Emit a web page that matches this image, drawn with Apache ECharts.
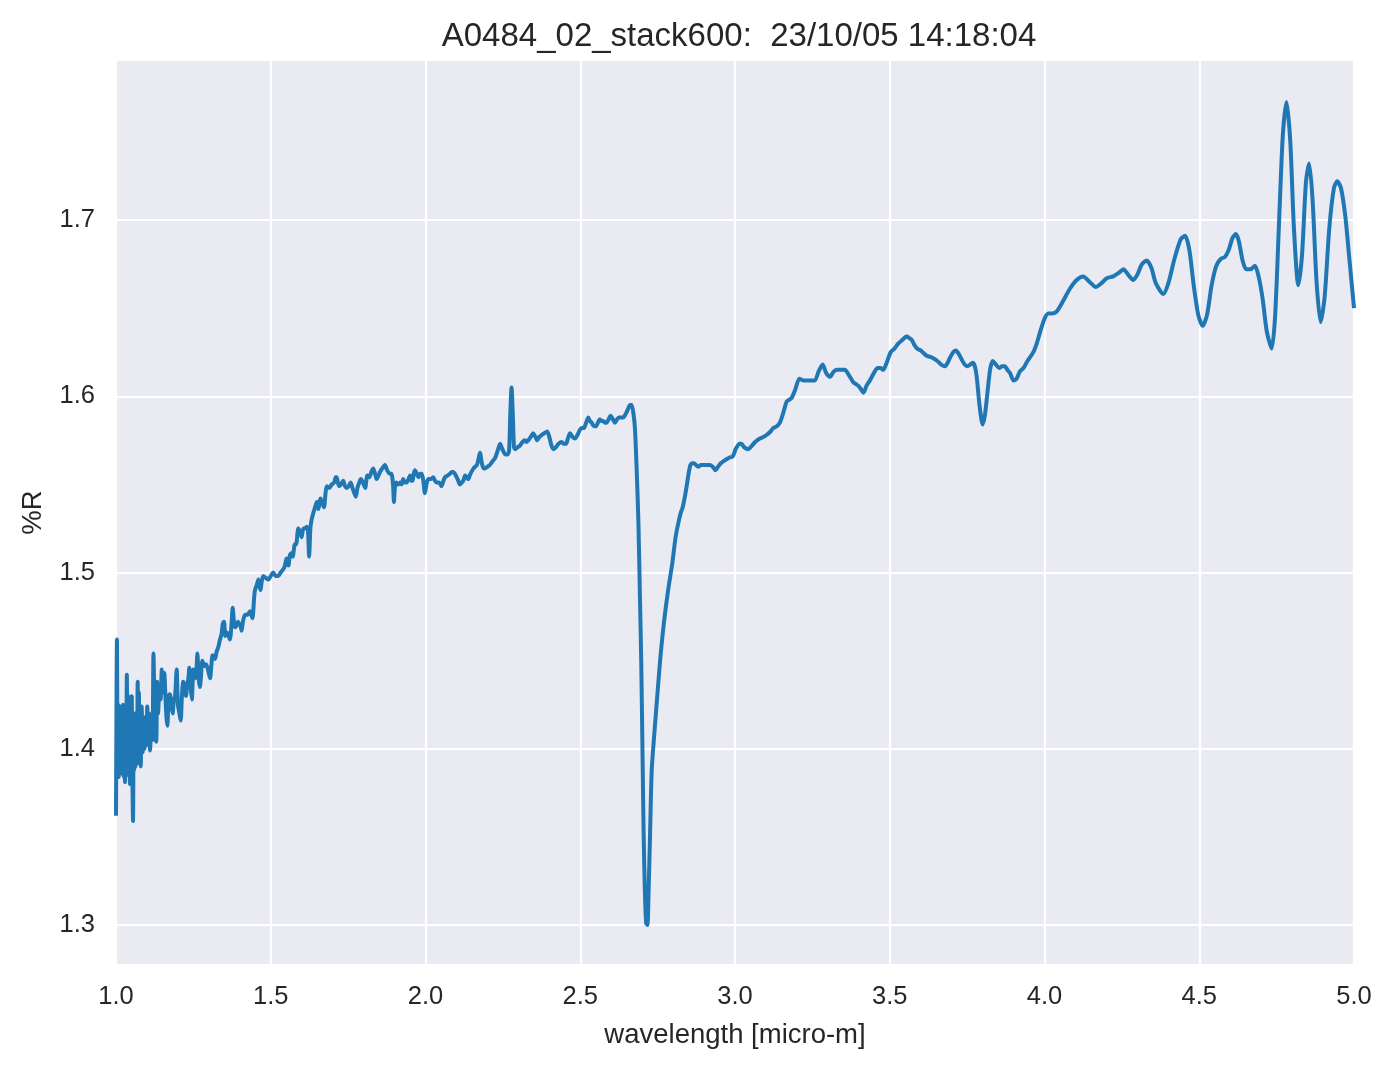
<!DOCTYPE html>
<html>
<head>
<meta charset="utf-8">
<script src="https://cdn.jsdelivr.net/npm/echarts@6/dist/echarts.min.js"></script>
<style>
html,body{margin:0;padding:0;background:#fff;}
#chart{width:1394px;height:1069px;}
</style>
</head>
<body>
<div id="chart"></div>
<script>
const titleText = 'A0484_02_stack600:  23/10/05 14:18:04';
const xTicks = [1.0, 1.5, 2.0, 2.5, 3.0, 3.5, 4.0, 4.5, 5.0];
const yTicks = [1.3, 1.4, 1.5, 1.6, 1.7];

const wavelength = [
1.000,1.003,1.005,1.007,1.009,1.011,1.013,1.015,1.017,1.019,1.021,1.023,1.025,1.027,1.029,1.031,1.033,1.035,1.037,1.039,
1.041,1.043,1.045,1.047,1.049,1.051,1.053,1.055,1.057,1.059,1.061,1.063,1.065,1.068,1.070,1.072,1.074,1.076,1.078,1.080,
1.083,1.086,1.089,1.092,1.095,1.098,1.101,1.104,1.107,1.110,1.114,1.118,1.121,1.124,1.127,1.130,1.133,1.136,1.140,1.144,
1.148,1.152,1.156,1.160,1.163,1.166,1.170,1.174,1.178,1.183,1.187,1.191,1.196,1.200,1.205,1.209,1.213,1.217,1.221,1.226,
1.230,1.234,1.237,1.241,1.245,1.250,1.255,1.259,1.263,1.267,1.271,1.275,1.279,1.285,1.291,1.297,1.304,1.308,1.312,1.316,
1.320,1.325,1.331,1.336,1.341,1.345,1.349,1.353,1.358,1.362,1.368,1.373,1.377,1.381,1.384,1.390,1.394,1.398,1.402,1.406,
1.410,1.417,1.425,1.433,1.437,1.441,1.446,1.449,1.455,1.460,1.464,1.467,1.471,1.476,1.484,1.492,1.500,1.508,1.516,1.524,
1.532,1.541,1.546,1.551,1.557,1.562,1.567,1.571,1.578,1.582,1.589,1.595,1.600,1.605,1.610,1.616,1.620,1.624,1.628,1.632,
1.638,1.643,1.649,1.654,1.661,1.666,1.672,1.677,1.681,1.689,1.697,1.705,1.710,1.713,1.717,1.721,1.727,1.734,1.740,1.745,
1.752,1.758,1.764,1.770,1.775,1.780,1.786,1.791,1.798,1.805,1.812,1.818,1.825,1.831,1.837,1.842,1.848,1.853,1.860,1.869,
1.876,1.885,1.890,1.895,1.898,1.901,1.905,1.912,1.918,1.923,1.928,1.934,1.939,1.945,1.950,1.955,1.958,1.962,1.966,1.972,
1.977,1.983,1.988,1.993,1.998,2.003,2.009,2.017,2.025,2.031,2.036,2.044,2.052,2.058,2.063,2.071,2.079,2.085,2.090,2.095,
2.101,2.106,2.111,2.117,2.122,2.128,2.134,2.138,2.145,2.155,2.160,2.166,2.172,2.176,2.182,2.188,2.192,2.200,2.208,2.216,
2.225,2.233,2.241,2.246,2.251,2.258,2.265,2.270,2.274,2.278,2.282,2.286,2.290,2.297,2.305,2.313,2.321,2.326,2.332,2.340,
2.348,2.355,2.361,2.368,2.375,2.384,2.393,2.400,2.407,2.414,2.421,2.430,2.440,2.447,2.454,2.460,2.467,2.475,2.483,2.491,
2.499,2.505,2.512,2.519,2.526,2.531,2.537,2.544,2.551,2.557,2.563,2.568,2.574,2.580,2.585,2.592,2.598,2.605,2.612,2.619,
2.626,2.633,2.639,2.647,2.655,2.661,2.666,2.672,2.677,2.683,2.688,2.693,2.697,2.701,2.705,2.709,2.713,2.717,2.721,2.726,
2.731,2.740,2.748,2.758,2.770,2.784,2.798,2.808,2.818,2.825,2.831,2.837,2.842,2.850,2.856,2.862,2.867,2.874,2.881,2.890,
2.898,2.908,2.918,2.928,2.937,2.945,2.954,2.962,2.970,2.980,2.993,3.002,3.009,3.015,3.021,3.030,3.043,3.055,3.065,3.080,
3.093,3.102,3.115,3.124,3.135,3.145,3.155,3.167,3.175,3.183,3.195,3.208,3.220,3.232,3.245,3.258,3.270,3.283,3.295,3.307,
3.319,3.331,3.343,3.355,3.368,3.382,3.390,3.398,3.407,3.415,3.425,3.436,3.448,3.461,3.470,3.479,3.490,3.503,3.515,3.528,
3.541,3.555,3.563,3.571,3.580,3.589,3.600,3.619,3.636,3.654,3.666,3.679,3.687,3.695,3.705,3.714,3.723,3.732,3.742,3.751,
3.760,3.768,3.775,3.781,3.790,3.800,3.808,3.818,3.825,3.833,3.843,3.854,3.863,3.872,3.880,3.889,3.900,3.910,3.920,3.932,
3.945,3.964,3.975,3.985,4.000,4.012,4.025,4.039,4.060,4.082,4.104,4.125,4.145,4.166,4.183,4.201,4.222,4.240,4.255,4.270,
4.287,4.300,4.315,4.330,4.345,4.360,4.384,4.400,4.420,4.440,4.454,4.468,4.482,4.497,4.511,4.525,4.540,4.555,4.570,4.583,
4.595,4.608,4.618,4.628,4.640,4.652,4.666,4.680,4.693,4.705,4.718,4.734,4.745,4.757,4.770,4.782,4.794,4.806,4.820,4.832,
4.845,4.855,4.866,4.879,4.892,4.905,4.920,4.935,4.946,4.958,4.972,4.985,5.000
];

const reflectance = [
1.362,1.462,1.395,1.425,1.384,1.420,1.388,1.424,1.386,1.418,1.392,1.425,1.384,1.415,1.381,1.420,1.390,1.442,1.392,1.430,
1.385,1.428,1.380,1.418,1.390,1.430,1.385,1.359,1.405,1.388,1.420,1.390,1.410,1.395,1.438,1.392,1.432,1.396,1.415,1.390,
1.424,1.398,1.418,1.400,1.415,1.402,1.424,1.405,1.420,1.399,1.412,1.405,1.454,1.430,1.406,1.404,1.438,1.420,1.432,1.428,
1.445,1.432,1.443,1.428,1.418,1.413,1.430,1.431,1.425,1.420,1.428,1.430,1.445,1.425,1.420,1.416,1.430,1.438,1.432,1.430,
1.437,1.440,1.446,1.435,1.428,1.445,1.440,1.442,1.454,1.440,1.435,1.442,1.450,1.447,1.448,1.445,1.440,1.447,1.453,1.452,
1.451,1.455,1.458,1.462,1.465,1.471,1.472,1.464,1.466,1.465,1.462,1.470,1.480,1.472,1.469,1.470,1.472,1.471,1.470,1.467,
1.472,1.476,1.476,1.478,1.476,1.474,1.485,1.490,1.493,1.496,1.492,1.490,1.495,1.498,1.497,1.496,1.498,1.500,1.498,1.498,
1.500,1.502,1.504,1.508,1.504,1.510,1.511,1.509,1.516,1.516,1.525,1.523,1.520,1.525,1.525,1.526,1.525,1.509,1.525,1.530,
1.534,1.537,1.540,1.536,1.542,1.540,1.537,1.545,1.549,1.548,1.550,1.551,1.554,1.554,1.551,1.549,1.550,1.552,1.549,1.548,
1.549,1.551,1.548,1.545,1.543,1.548,1.551,1.553,1.551,1.548,1.555,1.554,1.557,1.559,1.556,1.553,1.555,1.557,1.559,1.561,
1.558,1.556,1.556,1.550,1.540,1.548,1.551,1.550,1.551,1.550,1.553,1.551,1.551,1.553,1.555,1.552,1.552,1.556,1.558,1.556,
1.554,1.556,1.556,1.552,1.545,1.550,1.553,1.553,1.554,1.552,1.551,1.551,1.549,1.552,1.554,1.555,1.556,1.557,1.557,1.556,
1.554,1.552,1.550,1.551,1.552,1.555,1.554,1.553,1.556,1.559,1.560,1.561,1.565,1.568,1.562,1.559,1.559,1.560,1.561,1.563,
1.565,1.569,1.573,1.571,1.569,1.567,1.567,1.569,1.590,1.605,1.590,1.571,1.570,1.571,1.572,1.574,1.575,1.574,1.575,1.577,
1.579,1.577,1.575,1.577,1.578,1.579,1.580,1.577,1.572,1.570,1.571,1.573,1.574,1.573,1.573,1.576,1.579,1.577,1.576,1.578,
1.581,1.582,1.582,1.585,1.588,1.586,1.585,1.583,1.583,1.585,1.587,1.586,1.586,1.585,1.585,1.587,1.589,1.587,1.585,1.587,
1.588,1.588,1.588,1.590,1.593,1.595,1.595,1.590,1.581,1.555,1.528,1.485,1.450,1.400,1.350,1.318,1.301,1.300,1.320,1.355,
1.388,1.410,1.428,1.450,1.471,1.490,1.506,1.520,1.529,1.534,1.537,1.542,1.547,1.556,1.561,1.562,1.562,1.561,1.560,1.561,
1.561,1.561,1.561,1.560,1.558,1.560,1.562,1.563,1.564,1.565,1.566,1.570,1.572,1.573,1.573,1.571,1.570,1.572,1.574,1.576,
1.577,1.578,1.580,1.582,1.583,1.585,1.590,1.597,1.598,1.599,1.604,1.610,1.609,1.609,1.609,1.609,1.614,1.618,1.613,1.611,
1.614,1.615,1.615,1.615,1.612,1.608,1.607,1.606,1.604,1.602,1.606,1.609,1.613,1.616,1.616,1.615,1.619,1.625,1.627,1.630,
1.632,1.634,1.633,1.632,1.629,1.627,1.626,1.623,1.622,1.620,1.618,1.617,1.619,1.622,1.625,1.626,1.624,1.621,1.618,1.617,
1.618,1.619,1.617,1.611,1.595,1.584,1.590,1.606,1.616,1.620,1.618,1.616,1.617,1.617,1.615,1.613,1.609,1.610,1.614,1.616,
1.620,1.625,1.630,1.636,1.644,1.647,1.647,1.648,1.654,1.661,1.666,1.668,1.665,1.662,1.664,1.667,1.668,1.670,1.672,1.669,
1.666,1.669,1.675,1.677,1.673,1.664,1.658,1.664,1.678,1.689,1.691,1.683,1.663,1.646,1.640,1.646,1.663,1.674,1.678,1.679,
1.683,1.690,1.692,1.688,1.677,1.672,1.672,1.674,1.667,1.655,1.637,1.627,1.645,1.695,1.748,1.767,1.745,1.695,1.663,1.680,
1.722,1.732,1.712,1.665,1.642,1.656,1.695,1.718,1.722,1.718,1.702,1.678,1.650
];

const seriesData = wavelength.map((w, i) => [w, reflectance[i]]);

const chart = echarts.init(document.getElementById('chart'), null, {renderer: 'canvas'});
const textColor = '#262626';
const fontFam = '"Liberation Sans", Arial, sans-serif';

chart.setOption({
  animation: false,
  backgroundColor: '#ffffff',
  title: {
    text: titleText,
    left: 734,
    textAlign: 'center',
    top: 15,
    textStyle: {fontFamily: fontFam, fontSize: 33, fontWeight: 'normal', color: textColor}
  },
  grid: {
    left: 116, right: 40, top: 61, bottom: 105,
    show: true, backgroundColor: '#EAEAF2', borderWidth: 0
  },
  xAxis: {
    type: 'value',
    min: 1.0, max: 5.0, interval: 0.5,
    name: 'wavelength [micro-m]',
    nameLocation: 'middle',
    nameGap: 57,
    nameTextStyle: {fontFamily: fontFam, fontSize: 27.5, color: textColor},
    axisLine: {show: false},
    axisTick: {show: false},
    axisLabel: {
      fontFamily: fontFam, fontSize: 25.5, color: textColor, margin: 20,
      formatter: v => v.toFixed(1)
    },
    splitLine: {show: true, lineStyle: {color: '#ffffff', width: 2.2}}
  },
  yAxis: {
    type: 'value',
    min: 1.2779, max: 1.7902,
    name: '%R',
    nameLocation: 'middle',
    nameGap: 69,
    nameRotate: 90,
    nameTextStyle: {fontFamily: fontFam, fontSize: 27.5, color: textColor},
    axisLine: {show: false},
    axisTick: {show: false, customValues: yTicks},
    axisLabel: {
      fontFamily: fontFam, fontSize: 25.5, color: textColor, margin: 21,
      customValues: yTicks,
      formatter: v => v.toFixed(1)
    },
    splitLine: {show: true, lineStyle: {color: '#ffffff', width: 2.2}}
  },
  series: [{
    type: 'line',
    data: seriesData,
    showSymbol: false,
    smooth: 0.25,
    lineStyle: {color: '#1f77b4', width: 4},
    itemStyle: {color: '#1f77b4'},
    clip: true
  }]
});
</script>
</body>
</html>
